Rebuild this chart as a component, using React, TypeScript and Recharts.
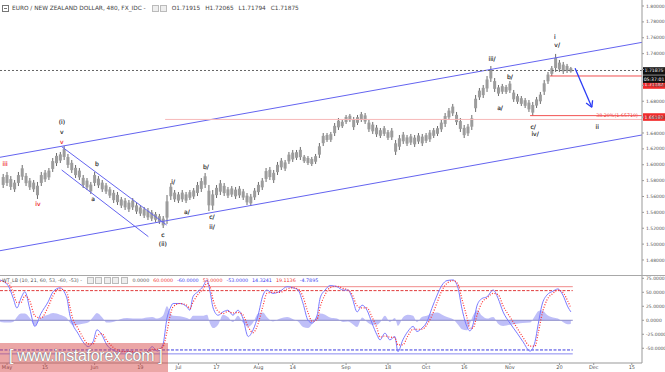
import React from 'react';
import { ComposedChart, Bar, Line, Area, Scatter, XAxis, YAxis, ReferenceLine } from 'recharts';

// 480-minute EUR/NZD, summarised as one high/low range per trading day (day 0 = May 1)
const FIRST_DAY = -1;
const dayHigh = [
  1.5884, 1.5909, 1.5858, 1.5808, 1.5909, 1.5997, 1.5896, 1.5833, 1.5808, 1.5783,
  1.5909, 1.5934, 1.5959, 1.6085, 1.6148, 1.6161, 1.6236, 1.6136, 1.6060, 1.5997,
  1.5959, 1.5871, 1.5833, 1.5783, 1.5909, 1.5858, 1.5808, 1.5770, 1.5720, 1.5682,
  1.5657, 1.5594, 1.5581, 1.5556, 1.5581, 1.5518, 1.5493, 1.5468, 1.5455, 1.5430,
  1.5405, 1.5380, 1.5354, 1.5619, 1.5770, 1.5682, 1.5657, 1.5682, 1.5657, 1.5682,
  1.5707, 1.5783, 1.5833, 1.5896, 1.5745, 1.5682, 1.5745, 1.5808, 1.5770, 1.5720,
  1.5732, 1.5720, 1.5732, 1.5695, 1.5644, 1.5632, 1.5707, 1.5783, 1.5833, 1.5959,
  1.5972, 1.5934, 1.6035, 1.6085, 1.6060, 1.6161, 1.6186, 1.6186, 1.6224, 1.6123,
  1.6110, 1.6098, 1.6136, 1.6274, 1.6400, 1.6400, 1.6413, 1.6526, 1.6589, 1.6564,
  1.6627, 1.6640, 1.6602, 1.6627, 1.6665, 1.6652, 1.6564, 1.6539, 1.6501, 1.6463,
  1.6488, 1.6438, 1.6463, 1.6312, 1.6375, 1.6413, 1.6375, 1.6388, 1.6375, 1.6400,
  1.6388, 1.6400, 1.6438, 1.6463, 1.6488, 1.6564, 1.6652, 1.6715, 1.6766, 1.6665,
  1.6589, 1.6501, 1.6514, 1.6627, 1.6879, 1.6967, 1.7005, 1.7118, 1.7244, 1.7093,
  1.7005, 1.7018, 1.7005, 1.7055, 1.6942, 1.6892, 1.6866, 1.6841, 1.6816, 1.6791,
  1.6854, 1.6917, 1.7068, 1.7169, 1.7244, 1.7396, 1.7320, 1.7295, 1.7270, 1.7232,
];
const dayLow = [
  1.5707, 1.5732, 1.5682, 1.5657, 1.5732, 1.5808, 1.5732, 1.5682, 1.5657, 1.5569,
  1.5732, 1.5783, 1.5808, 1.5909, 1.5984, 1.6022, 1.6060, 1.5959, 1.5896, 1.5833,
  1.5808, 1.5707, 1.5682, 1.5632, 1.5732, 1.5707, 1.5657, 1.5632, 1.5581, 1.5518,
  1.5493, 1.5455, 1.5430, 1.5405, 1.5430, 1.5380, 1.5354, 1.5329, 1.5304, 1.5291,
  1.5279, 1.5254, 1.5203, 1.5254, 1.5556, 1.5531, 1.5518, 1.5531, 1.5518, 1.5556,
  1.5569, 1.5606, 1.5657, 1.5707, 1.5417, 1.5430, 1.5581, 1.5619, 1.5606, 1.5581,
  1.5594, 1.5569, 1.5581, 1.5556, 1.5493, 1.5480, 1.5556, 1.5619, 1.5682, 1.5783,
  1.5808, 1.5770, 1.5871, 1.5934, 1.5921, 1.6010, 1.6035, 1.6060, 1.6060, 1.6022,
  1.5997, 1.5984, 1.6010, 1.6085, 1.6236, 1.6287, 1.6287, 1.6362, 1.6438, 1.6463,
  1.6514, 1.6539, 1.6438, 1.6501, 1.6539, 1.6514, 1.6413, 1.6388, 1.6350, 1.6337,
  1.6362, 1.6312, 1.6312, 1.6123, 1.6186, 1.6262, 1.6236, 1.6249, 1.6224, 1.6262,
  1.6236, 1.6274, 1.6287, 1.6337, 1.6362, 1.6413, 1.6476, 1.6564, 1.6614, 1.6501,
  1.6413, 1.6337, 1.6362, 1.6438, 1.6665, 1.6816, 1.6841, 1.6917, 1.7043, 1.6917,
  1.6866, 1.6892, 1.6892, 1.6904, 1.6791, 1.6766, 1.6740, 1.6715, 1.6665, 1.6619,
  1.6715, 1.6766, 1.6879, 1.7018, 1.7118, 1.7169, 1.7169, 1.7144, 1.7156, 1.7160,
];

const priceTicks = [1.48, 1.5, 1.52, 1.54, 1.56, 1.58, 1.6, 1.62, 1.64, 1.66, 1.68, 1.7, 1.72, 1.74, 1.76, 1.78, 1.8];
const tickDays = [0, 10, 23, 35, 45, 55, 66, 75, 89, 100, 110, 120, 132, 145, 154, 164];
const tickLabels = ['May', '15', 'Jun', '19', 'Jul', '17', 'Aug', '14', 'Sep', '18', 'Oct', '16', 'Nov', '20', 'Dec', '15'];

const lastPrice = 1.71875;
const prevLevel = 1.71182;
const ivLow = 1.66187;
const fibLevel = 1.6571;

// Elliott wave labels
const waveDays = [-0.5, 8.1, 14.4, 14.4, 14.4, 23.6, 22.6, 40.9, 40.9, 43.6, 47.2, 52.2, 53.8, 53.8, 127.3, 132.0, 129.4, 138.1, 138.6, 143.8, 144.4, 154.9];
const wavePrices = [1.601, 1.5506, 1.6539, 1.6413, 1.6287, 1.6022, 1.5581, 1.5115, 1.5002, 1.5795, 1.5405, 1.5972, 1.5342, 1.5216, 1.7333, 1.7118, 1.6715, 1.6488, 1.6388, 1.7622, 1.7509, 1.6488];
const waveTexts = ['iii', 'iv', '(i)', 'v', 'v', 'b', 'a', 'c', '(ii)', 'i/', 'a/', 'b/', 'c/', 'ii/', 'iii/', 'b/', 'a/', 'c/', 'iv/', 'i', 'v/', 'ii'];
const waveRed = [true, true, false, false, true, false, false, false, false, false, false, false, false, false, false, false, false, false, false, false, false, false];

// trend lines, [day, price] end points
const channelTop = [[-1.84, 1.6094], [166.67, 1.7542]];
const channelBottom = [[-1.84, 1.4917], [166.67, 1.6375]];
const flagTop = [[14.35, 1.6228], [41.9, 1.5241]];
const flagBottom = [[14.35, 1.5934], [37.1, 1.5094]];
const arrowShaft = [[149.1, 1.7215], [153.5, 1.6724]];
const arrowHeadA = [[153.5, 1.6724], [153.7, 1.6812]];
const arrowHeadB = [[153.5, 1.6724], [152.0, 1.6777]];

// WT_LB oscillator
const oscDays = [
  -1.8, 0.3, 1.6, 2.6, 3.7, 4.7, 6.0, 7.3, 8.9, 10.8,
  12.1, 13.9, 15.7, 16.5, 17.3, 18.6, 19.9, 21.3, 22.6, 23.6,
  24.9, 26.2, 27.8, 29.7, 31.5, 33.1, 34.9, 36.7, 38.1, 39.4,
  40.9, 42.0, 42.8, 43.6, 45.4, 47.2, 48.0, 48.8, 50.1, 51.4,
  52.5, 53.3, 54.1, 55.4, 56.7, 58.0, 59.3, 60.6, 61.9, 63.3,
  64.6, 65.9, 67.2, 68.2, 69.8, 71.7, 73.5, 75.1, 76.4, 77.7,
  79.0, 80.1, 81.4, 82.2, 83.5, 84.8, 86.6, 88.2, 89.5, 90.6,
  91.9, 93.2, 94.5, 95.8, 97.1, 97.9, 99.2, 100.5, 101.8, 102.6,
  103.9, 105.2, 106.6, 107.6, 108.9, 110.2, 111.5, 112.9, 114.2, 115.5,
  117.1, 118.4, 119.4, 120.7, 121.5, 122.3, 123.4, 124.7, 126.0, 127.6,
  128.9, 130.2, 132.0, 133.9, 135.4, 137.3, 138.6, 139.4, 140.4, 141.7,
  143.3, 144.6, 145.9, 147.2, 148.0,
];
const wt1 = [
  72, 62, 40, 22, 40, 51, 20, -11, 12, 33,
  51, 58, 40, 9, -8, -23, -38, -47, -38, -17,
  -26, -44, -53, -57, -55, -57, -60, -57, -47, -55,
  -44, 4, 21, 30, 30, 24, 18, 42, 51, 60,
  72, 51, 22, 9, 15, 18, 9, 18, 4, -29,
  -17, 9, 45, 54, 48, 52, 60, 58, 54, 30,
  0, -5, 9, 40, 54, 62, 60, 54, 54, 40,
  15, 27, 18, -5, -26, -35, -23, -35, -29, -56,
  -35, -20, -11, -20, -14, -3, 21, 45, 63, 71,
  72, 57, 21, -11, -19, -8, 27, 39, 42, 54,
  39, 15, -5, -23, -38, -55, -38, -8, 27, 45,
  52, 56, 45, 24, 15,
];
const wt2 = [
  70, 66, 50, 32, 32, 44, 34, 8, 4, 24,
  44, 56, 50, 24, 2, -14, -30, -42, -42, -28,
  -24, -36, -48, -55, -56, -56, -58, -58, -52, -52,
  -48, -20, 8, 24, 30, 27, 21, 32, 46, 55,
  66, 60, 36, 16, 12, 16, 13, 14, 10, -12,
  -22, -6, 26, 48, 50, 50, 56, 58, 56, 42,
  14, -2, 2, 24, 46, 58, 61, 57, 54, 46,
  26, 22, 22, 6, -14, -30, -28, -30, -31, -44,
  -44, -28, -16, -16, -16, -8, 8, 32, 54, 66,
  71, 64, 38, 6, -14, -14, 10, 32, 40, 48,
  46, 26, 6, -14, -30, -46, -46, -24, 10, 36,
  48, 54, 50, 34, 22,
];
const wtHist = [
  -3, -4, -3, 6, 12, 12, 4, -10, 4, 10,
  13, 10, 4, -4, -9, -8, -6, -4, 6, 13,
  6, -4, -3, 2, 4, 3, 3, 5, 6, 3,
  8, 25, 14, 8, 7, 4, 2, 8, 8, 8,
  10, -6, -14, -8, 10, 6, -3, 8, -4, -12,
  -4, 12, 14, 6, -2, 3, 6, 2, -2, -12,
  -14, -6, 8, 12, 10, 5, 3, -3, -2, -6,
  -12, 5, -3, -8, -8, -4, 8, -3, 4, -10,
  5, 10, 8, -3, 6, 8, 12, 14, 10, 6,
  2, -8, -16, -18, -6, 8, 18, 8, 3, 6,
  -6, -10, -8, -6, -5, -4, 8, 16, 18, 10,
  5, 3, -3, -7, -6,
];
const oscTicks = [75, 50, 25, 0, -25, -50];
const oscEndDay = 148.5;

const X_DOMAIN: [number, number] = [-1.84, 166.67];
const FONT = '"DejaVu Sans", Tahoma, sans-serif';

const priceBars = dayHigh.map((h, i) => ({ day: FIRST_DAY + i, range: [dayLow[i], h] }));
const waveMarks = waveTexts.map((t, i) => ({ day: waveDays[i], price: wavePrices[i], text: t, red: waveRed[i] }));
const oscData = oscDays.map((d, i) => ({ day: d, wt1: wt1[i], wt2: wt2[i], hist: wtHist[i] }));

const seg = (pts: number[][]) => [{ x: pts[0][0], y: pts[0][1] }, { x: pts[1][0], y: pts[1][1] }];

// day range drawn as a candle-like block, centred on the bar slot the library computed
const RangeBar = (props: any) => {
  const { x, y, width, height } = props;
  if (x == null || y == null || !height) return null;
  const cx = x + width / 2;
  const h = Math.abs(height);
  return (
    <g>
      <rect x={cx - 0.5} y={y} width={1} height={h} fill="#6c6c6c" />
      <rect x={cx - 1.5} y={y + h * 0.22} width={3} height={h * 0.56} fill="#9c9c9c" />
    </g>
  );
};

const WaveText = (props: any) => {
  const { cx, cy, payload } = props;
  if (cx == null || cy == null || !payload) return null;
  const color = payload.red ? '#ee1c1c' : '#1e1e1e';
  return (
    <text x={cx} y={cy} textAnchor="middle" dominantBaseline="central" fontSize={6} fontFamily={FONT}
      stroke={color} strokeWidth={0.15} style={{ fill: color }}>
      {payload.text}
    </text>
  );
};

const PriceTags = (props: any) => {
  const { viewBox, tags } = props;
  if (!viewBox) return null;
  const x = viewBox.x + viewBox.width + 1;
  return (
    <g>
      {tags.map((t: any, i: number) => (
        <g key={i}>
          <rect x={x} y={viewBox.y + t.shift - 3.8} width={22} height={7.6} fill={t.bg} />
          <text x={x + 11} y={viewBox.y + t.shift} textAnchor="middle" dominantBaseline="central" fontSize={4.6}
            fontFamily={FONT} fill="#fff">
            {t.text}
          </text>
        </g>
      ))}
    </g>
  );
};

const FibText = (props: any) => {
  const { viewBox } = props;
  if (!viewBox) return null;
  return (
    <text x={viewBox.x + viewBox.width - 4} y={viewBox.y - 2.5} textAnchor="end" fontSize={4.8} fontFamily={FONT} fill="#f04040">
      38.20%(1.65710)
    </text>
  );
};

const Icon = () => (
  <span style={{ display: 'inline-block', width: 5, height: 5, border: '1px solid #bbb', background: '#eee', marginRight: 1.5, verticalAlign: 'middle' }} />
);

export default function App() {
  return (
    <div style={{ position: 'absolute', left: 0, top: 0, width: 665, height: 372, background: '#fff', overflow: 'hidden', fontFamily: FONT }}>
      <ComposedChart width={665} height={275} data={priceBars} margin={{ top: 0, right: 0, bottom: 0, left: 0 }}>
        <XAxis dataKey="day" type="number" domain={X_DOMAIN} allowDataOverflow hide />
        <YAxis
          orientation="right"
          width={23}
          type="number"
          domain={[1.4611, 1.80756]}
          allowDataOverflow
          ticks={priceTicks}
          tickFormatter={(v: number) => v.toFixed(5)}
          tick={{ fontSize: 4.5, fill: '#555', fontFamily: FONT }}
          tickSize={2}
          tickMargin={2}
          axisLine={{ stroke: '#999' }}
          tickLine={{ stroke: '#999' }}
        />
        <ReferenceLine segment={seg(channelTop)} stroke="#6464f0" strokeWidth={1} ifOverflow="hidden" />
        <ReferenceLine segment={seg(channelBottom)} stroke="#6464f0" strokeWidth={1} ifOverflow="hidden" />
        <ReferenceLine segment={seg(flagTop)} stroke="#6464f0" strokeWidth={1} />
        <ReferenceLine segment={seg(flagBottom)} stroke="#6464f0" strokeWidth={1} />
        <ReferenceLine
          segment={[{ x: 41.5, y: fibLevel }, { x: X_DOMAIN[1], y: fibLevel }]}
          stroke="#f7b8b8"
          strokeWidth={1}
          label={<FibText />}
        />
        <ReferenceLine
          segment={[{ x: 137.3, y: ivLow }, { x: X_DOMAIN[1], y: ivLow }]}
          stroke="#f25050"
          strokeWidth={1}
          label={<PriceTags tags={[{ text: '1.66187', bg: '#f22a2a', shift: 1.4 }]} />}
        />
        <ReferenceLine
          segment={[{ x: 142.5, y: prevLevel }, { x: X_DOMAIN[1], y: prevLevel }]}
          stroke="#f25050"
          strokeWidth={1}
          label={<PriceTags tags={[{ text: '1.71182', bg: '#f22a2a', shift: 9 }]} />}
        />
        <Bar dataKey="range" barSize={3} fill="#8a8a8a" shape={(p: any) => <RangeBar {...p} />} isAnimationActive={false} />
        <ReferenceLine
          y={lastPrice}
          stroke="#666"
          strokeDasharray="2 2"
          strokeWidth={1}
          label={<PriceTags tags={[{ text: '1.71875', bg: '#111', shift: 0.5 }, { text: '05:37:01', bg: '#111', shift: 8.6 }]} />}
        />
        <ReferenceLine segment={seg(arrowShaft)} stroke="#2b3cf5" strokeWidth={1.3} />
        <ReferenceLine segment={seg(arrowHeadA)} stroke="#2b3cf5" strokeWidth={1.3} />
        <ReferenceLine segment={seg(arrowHeadB)} stroke="#2b3cf5" strokeWidth={1.3} />
        <Scatter data={waveMarks} dataKey="price" fill="#1e1e1e" shape={(p: any) => <WaveText {...p} />} isAnimationActive={false} />
      </ComposedChart>

      <div style={{ position: 'absolute', left: 0, top: 275, width: 665, height: 1, background: '#a8a8a8' }} />

      <div style={{ position: 'absolute', left: 0, top: 275 }}>
        <ComposedChart width={665} height={97} data={oscData} margin={{ top: 1, right: 0, bottom: 0, left: 0 }}>
          <XAxis
            dataKey="day"
            type="number"
            domain={X_DOMAIN}
            allowDataOverflow
            ticks={tickDays}
            tickFormatter={(v: number) => tickLabels[tickDays.indexOf(v)] ?? ''}
            height={9}
            tick={{ fontSize: 5, fill: '#555', fontFamily: FONT }}
            tickSize={2}
            tickMargin={0}
            axisLine={{ stroke: '#999' }}
            tickLine={{ stroke: '#999' }}
            interval={0}
          />
          <YAxis
            orientation="right"
            width={23}
            type="number"
            domain={[-76.3, 79.1]}
            allowDataOverflow
            ticks={oscTicks}
            tickFormatter={(v: number) => v.toFixed(4)}
            tick={{ fontSize: 4.5, fill: '#555', fontFamily: FONT }}
            tickSize={2}
            tickMargin={2}
            axisLine={{ stroke: '#999' }}
            tickLine={{ stroke: '#999' }}
          />
          <Area dataKey="hist" type="monotone" baseValue={0} stroke="none" fill="#a9a9f5" fillOpacity={0.75} isAnimationActive={false} />
          <ReferenceLine segment={[{ x: X_DOMAIN[0], y: 60 }, { x: oscEndDay, y: 60 }]} stroke="#f08a8a" strokeWidth={1} ifOverflow="hidden" />
          <ReferenceLine segment={[{ x: X_DOMAIN[0], y: 53 }, { x: oscEndDay, y: 53 }]} stroke="#e03c3c" strokeDasharray="3 1.5" strokeWidth={1} ifOverflow="hidden" />
          <ReferenceLine segment={[{ x: X_DOMAIN[0], y: 0 }, { x: oscEndDay, y: 0 }]} stroke="#8c8cc8" strokeWidth={1} ifOverflow="hidden" />
          <ReferenceLine segment={[{ x: X_DOMAIN[0], y: -53 }, { x: oscEndDay, y: -53 }]} stroke="#3c3ce0" strokeDasharray="3 1.5" strokeWidth={1} ifOverflow="hidden" />
          <ReferenceLine segment={[{ x: X_DOMAIN[0], y: -60 }, { x: oscEndDay, y: -60 }]} stroke="#8a8af0" strokeWidth={1} ifOverflow="hidden" />
          <Line dataKey="wt1" type="monotone" stroke="#7a7aff" strokeWidth={1} dot={false} isAnimationActive={false} />
          <Line dataKey="wt2" type="monotone" stroke="#ff3030" strokeWidth={1.2} strokeDasharray="1 1.6" dot={false} isAnimationActive={false} />
        </ComposedChart>
      </div>

      <div style={{ position: 'absolute', left: 2, top: 4, fontSize: 5.8, color: '#444', whiteSpace: 'nowrap', lineHeight: '8px', display: 'flex', alignItems: 'center' }}>
        <span style={{ display: 'inline-block', width: 5, height: 5, border: '1px solid #777', marginRight: 3, position: 'relative' }}>
          <span style={{ position: 'absolute', left: 1, right: 1, top: 2, height: 1, background: '#777' }} />
        </span>
        <span>EURO / NEW ZEALAND DOLLAR, 480, FX_IDC -</span>
        <span style={{ marginLeft: 6 }}><Icon /><Icon /></span>
        <span style={{ marginLeft: 3 }}>O1.71915</span>
        <span style={{ marginLeft: 5 }}>H1.72065</span>
        <span style={{ marginLeft: 5 }}>L1.71794</span>
        <span style={{ marginLeft: 5 }}>C1.71875</span>
      </div>

      <div style={{ position: 'absolute', left: 2, top: 277, fontSize: 4.8, color: '#555', whiteSpace: 'nowrap', lineHeight: '7px', display: 'flex', alignItems: 'center' }}>
        <span>WT_LB (10, 21, 60, 53, -60, -53) -</span>
        <span style={{ marginLeft: 5 }}><Icon /><Icon /><Icon /><Icon /><Icon /></span>
        <span style={{ marginLeft: 3, color: '#555' }}>0.0000</span>
        <span style={{ marginLeft: 4, color: '#f03030' }}>60.0000</span>
        <span style={{ marginLeft: 4, color: '#3a3af0' }}>-60.0000</span>
        <span style={{ marginLeft: 4, color: '#f03030' }}>53.0000</span>
        <span style={{ marginLeft: 4, color: '#3a3af0' }}>-53.0000</span>
        <span style={{ marginLeft: 4, color: '#3a3af0' }}>14.3241</span>
        <span style={{ marginLeft: 4, color: '#f03030' }}>19.1136</span>
        <span style={{ marginLeft: 4, color: '#3a3af0' }}>-4.7895</span>
      </div>

      <div style={{ position: 'absolute', left: 0, top: 343, width: 168, height: 29, background: 'rgba(214, 70, 70, 0.48)' }}>
        <div style={{ position: 'absolute', left: 9, top: 4, fontFamily: '"Liberation Sans", Arial, sans-serif', fontSize: 16, letterSpacing: -0.3, color: '#fff', whiteSpace: 'nowrap', textShadow: '0 0 1px #777, 0 0 1px #777' }}>
          [ www.instaforex.com ]
        </div>
      </div>
    </div>
  );
}
